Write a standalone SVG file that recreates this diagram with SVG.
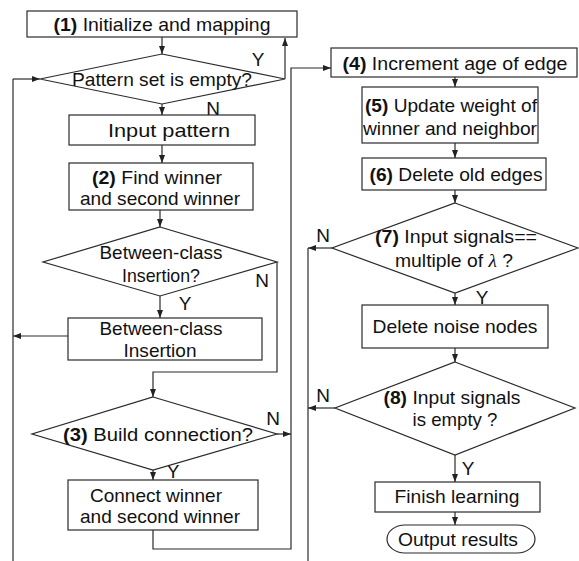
<svg xmlns="http://www.w3.org/2000/svg" width="579" height="561" viewBox="0 0 579 561">
<defs>
<marker id="ah" viewBox="0 0 8 6" refX="8" refY="3" markerWidth="8" markerHeight="6" markerUnits="userSpaceOnUse" orient="auto">
<path d="M0,0 L8,3 L0,6 z" fill="#222"/>
</marker>
<style>
.n{fill:#fff;stroke:#2a2a2a;stroke-width:1.2}
.t{font-family:"Liberation Sans",Arial,sans-serif;font-size:19px;fill:#111;text-anchor:middle}
.b{font-weight:bold}
.c{fill:none;stroke:#2a2a2a;stroke-width:1.2}
.a{fill:none;stroke:#2a2a2a;stroke-width:1.2;marker-end:url(#ah)}
.l{font-family:"Liberation Sans",Arial,sans-serif;font-size:19px;fill:#111;text-anchor:middle}
</style>
</defs>
<rect width="579" height="561" fill="#fff"/>
<g id="connectors">
<path class="a" d="M162,37 V54"/>
<path class="a" d="M285,79 V38"/>
<path class="c" d="M13,79 V561"/>
<path class="a" d="M13,79 H40"/>
<path class="a" d="M162,104 V115"/>
<path class="a" d="M162,145 V163"/>
<path class="a" d="M160,210 V227"/>
<path class="a" d="M277,262 V372 H153 V397"/>
<path class="a" d="M160,296 V318"/>
<path class="a" d="M68,336 H13"/>
<path class="a" d="M277,434 H291"/>
<path class="a" d="M153,470 V480"/>
<path class="a" d="M153,530 V549 H291 V68 H331"/>
<path class="a" d="M455,77 V87"/>
<path class="a" d="M455,143 V158"/>
<path class="a" d="M455,190 V203"/>
<path class="a" d="M332,248 H308"/>
<path class="c" d="M308,248 V561"/>
<path class="a" d="M455,293 V305"/>
<path class="a" d="M455,348 V362"/>
<path class="a" d="M335,408 H308"/>
<path class="a" d="M455,455 V482"/>
<path class="a" d="M455,512 V525"/>
<text class="l" x="258" y="66">Y</text>
<text class="l" x="213" y="115">N</text>
<text class="l" x="262" y="287">N</text>
<text class="l" x="185" y="310">Y</text>
<text class="l" x="273" y="425">N</text>
<text class="l" x="173" y="478">Y</text>
<text class="l" x="323" y="242">N</text>
<text class="l" x="482" y="304">Y</text>
<text class="l" x="323" y="402">N</text>
<text class="l" x="468" y="475">Y</text>
</g>
<g id="n1">
<rect class="n" x="27" y="11" width="270" height="26"/>
<text class="t" x="162" y="31" textLength="217" lengthAdjust="spacingAndGlyphs"><tspan class="b">(1)</tspan> Initialize and mapping</text>
</g>
<g id="d1">
<polygon class="n" points="162,54 285,79 162,104 40,79"/>
<text class="t" x="162" y="86" textLength="180" lengthAdjust="spacingAndGlyphs">Pattern set is empty?</text>
</g>
<g id="n_input">
<rect class="n" x="69" y="115" width="186" height="30"/>
<text class="t" x="169" y="137" textLength="122" lengthAdjust="spacingAndGlyphs">Input pattern</text>
</g>
<g id="n2">
<rect class="n" x="69" y="163" width="184" height="47"/>
<text class="t" x="157" y="184" textLength="130" lengthAdjust="spacingAndGlyphs"><tspan class="b">(2)</tspan> Find winner</text>
<text class="t" x="160" y="205" textLength="160" lengthAdjust="spacingAndGlyphs">and second winner</text>
</g>
<g id="d2">
<polygon class="n" points="160,227 277,262 160,296 43,262"/>
<text class="t" x="161" y="259" textLength="123" lengthAdjust="spacingAndGlyphs">Between-class</text>
<text class="t" x="161" y="282" textLength="78" lengthAdjust="spacingAndGlyphs">Insertion?</text>
</g>
<g id="n_bci">
<rect class="n" x="68" y="318" width="194" height="42"/>
<text class="t" x="161" y="335" textLength="123" lengthAdjust="spacingAndGlyphs">Between-class</text>
<text class="t" x="160" y="357" textLength="73" lengthAdjust="spacingAndGlyphs">Insertion</text>
</g>
<g id="d3">
<polygon class="n" points="153,397 277,434 153,470 32,434"/>
<text class="t" x="158" y="441" textLength="190" lengthAdjust="spacingAndGlyphs"><tspan class="b">(3)</tspan> Build connection?</text>
</g>
<g id="n_connect">
<rect class="n" x="68" y="480" width="190" height="50"/>
<text class="t" x="156" y="502" textLength="132" lengthAdjust="spacingAndGlyphs">Connect winner</text>
<text class="t" x="160" y="523" textLength="160" lengthAdjust="spacingAndGlyphs">and second winner</text>
</g>
<g id="n4">
<rect class="n" x="331" y="48" width="246" height="29"/>
<text class="t" x="455" y="70" textLength="225" lengthAdjust="spacingAndGlyphs"><tspan class="b">(4)</tspan> Increment age of edge</text>
</g>
<g id="n5">
<rect class="n" x="362" y="87" width="176" height="56"/>
<text class="t" x="451" y="112" textLength="172" lengthAdjust="spacingAndGlyphs"><tspan class="b">(5)</tspan> Update weight of</text>
<text class="t" x="450" y="135" textLength="174" lengthAdjust="spacingAndGlyphs">winner and neighbor</text>
</g>
<g id="n6">
<rect class="n" x="362" y="158" width="184" height="32"/>
<text class="t" x="456" y="181" textLength="173" lengthAdjust="spacingAndGlyphs"><tspan class="b">(6)</tspan> Delete old edges</text>
</g>
<g id="d7">
<polygon class="n" points="455,203 578,248 455,293 332,248"/>
<text class="t" x="456" y="243" textLength="162" lengthAdjust="spacingAndGlyphs"><tspan class="b">(7)</tspan> Input signals==</text>
<text class="t" x="454" y="267" textLength="118" lengthAdjust="spacingAndGlyphs">multiple of <tspan font-family="'Liberation Serif',serif" font-style="italic">λ</tspan> ?</text>
</g>
<g id="n_noise">
<rect class="n" x="362" y="305" width="186" height="43"/>
<text class="t" x="455" y="333" textLength="165" lengthAdjust="spacingAndGlyphs">Delete noise nodes</text>
</g>
<g id="d8">
<polygon class="n" points="455,362 575,408 455,455 335,408"/>
<text class="t" x="452" y="404" textLength="137" lengthAdjust="spacingAndGlyphs"><tspan class="b">(8)</tspan> Input signals</text>
<text class="t" x="455" y="426" textLength="85" lengthAdjust="spacingAndGlyphs">is empty ?</text>
</g>
<g id="n_finish">
<rect class="n" x="375" y="482" width="165" height="30"/>
<text class="t" x="457" y="503" textLength="125" lengthAdjust="spacingAndGlyphs">Finish learning</text>
</g>
<g id="n_output">
<rect class="n" x="387" y="525" width="148" height="28" rx="18" ry="14"/>
<text class="t" x="458" y="546" textLength="120" lengthAdjust="spacingAndGlyphs">Output results</text>
</g>
</svg>
